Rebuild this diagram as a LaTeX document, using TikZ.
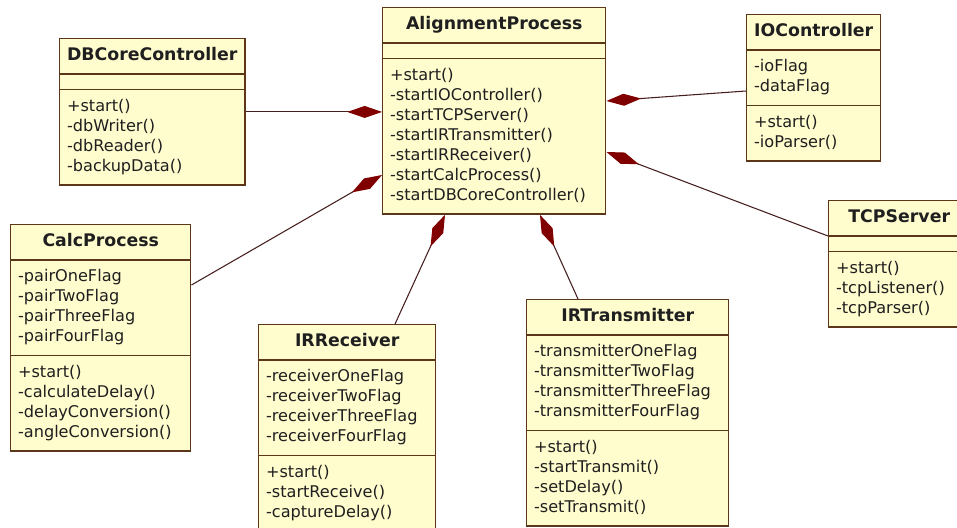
\documentclass[tikz,border=0pt]{standalone}
\usepackage{fontspec}
\setmainfont{DejaVu Sans}
\usetikzlibrary{shapes.multipart,arrows.meta,calc}

\definecolor{umlfill}{RGB}{255,252,206}
\definecolor{umlborder}{RGB}{92,54,24}
\definecolor{umlline}{RGB}{70,30,30}
\definecolor{umldiamond}{RGB}{128,0,0}

\tikzset{
  umlclass/.style={rectangle split, rectangle split parts=3,
    rectangle split part align={center,left,left},
    rectangle split empty part height=0pt,
    draw=umlborder, fill=umlfill, line width=1.1pt,
    inner xsep=5.5pt, inner ysep=5.25pt, align=left, anchor=north west,
    text=black!88, font=\fontsize{12.1}{15}\selectfont},
  boxw/.style={minimum width=#1*0.75pt},
  comp/.style={draw=umlline, line width=0.8pt,
    -{Diamond[length=26pt,width=9pt,color=umldiamond,fill=umldiamond]}},
}
\newcommand\clsname[1]{\strut{\fontsize{13}{15}\selectfont\bfseries #1}}
\newcommand\noattr{\hspace*{0.1pt}}

\begin{document}
\begin{tikzpicture}[x=0.75pt,y=-0.75pt]
\path[use as bounding box,clip] (0,0) rectangle (957,528);

\node[umlclass,boxw=223] (align) at (382,7) {\clsname{AlignmentProcess}
  \nodepart{second}\noattr
  \nodepart{third}\strut+start()\\-startIOController()\\-startTCPServer()\\-startIRTransmitter()\\-startIRReceiver()\\-startCalcProcess()\\-startDBCoreController()\strut};

\node[umlclass,boxw=180] (dbcore) at (59,38) {\clsname{DBCoreController}
  \nodepart{second}\noattr
  \nodepart{third}\strut+start()\\-dbWriter()\\-dbReader()\\-backupData()\strut};

\node[umlclass,boxw=134] (ioctrl) at (746,14) {\clsname{IOController}
  \nodepart{second}\strut-ioFlag\\-dataFlag\strut
  \nodepart{third}\strut+start()\\-ioParser()\strut};

\node[umlclass,boxw=141] (tcp) at (828,200) {\clsname{TCPServer}
  \nodepart{second}\noattr
  \nodepart{third}\strut+start()\\-tcpListener()\\-tcpParser()\strut};

\node[umlclass,boxw=180] (calc) at (10,224) {\clsname{CalcProcess}
  \nodepart{second}\strut-pairOneFlag\\-pairTwoFlag\\-pairThreeFlag\\-pairFourFlag\strut
  \nodepart{third}\strut+start()\\-calculateDelay()\\-delayConversion()\\-angleConversion()\strut};

\node[umlclass,boxw=177] (irrecv) at (258,324) {\clsname{IRReceiver}
  \nodepart{second}\strut-receiverOneFlag\\-receiverTwoFlag\\-receiverThreeFlag\\-receiverFourFlag\strut
  \nodepart{third}\strut+start()\\-startReceive()\\-captureDelay()\strut};

\node[umlclass,boxw=202] (irtx) at (526,299) {\clsname{IRTransmitter}
  \nodepart{second}\strut-transmitterOneFlag\\-transmitterTwoFlag\\-transmitterThreeFlag\\-transmitterFourFlag\strut
  \nodepart{third}\strut+start()\\-startTransmit()\\-setDelay()\\-setTransmit()\strut};

\draw[comp] (dbcore.east) -- (align.west |- dbcore.east);
\draw[comp] ($(ioctrl.north west)+(0,77)$) -- ($(align.north east)+(0,94)$);
\draw[comp] ($(tcp.north west)+(0,36)$) -- ($(align.north east)+(0,145)$);
\draw[comp] ($(calc.north east)+(0,61)$) -- ($(align.north west)+(0,168)$);
\draw[comp] ($(irrecv.north west)+(137,0)$) -- ($(align.south west)+(63,0)$);
\draw[comp] ($(irtx.north west)+(52,0)$) -- ($(align.south west)+(158,0)$);

\end{tikzpicture}
\end{document}
